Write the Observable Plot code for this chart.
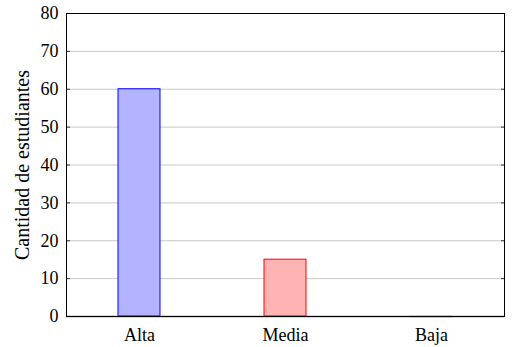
<!DOCTYPE html>
<html>
<head>
<meta charset="utf-8">
<script src="https://cdn.jsdelivr.net/npm/d3@7"></script>
<script src="https://cdn.jsdelivr.net/npm/@observablehq/plot@0.6"></script>
<style>
body { margin: 0; background: white; }
</style>
</head>
<body>
<div id="chart"></div>
<script>
const categories = ["Alta", "Media", "Baja"];
const values = [60, 15, 0];
const fills = ["#b3b3ff", "#ffb3b3", "#ecd9c6"];
const strokes = ["#0000ff", "#ff0000", "#bf8040"];
const yTicks = [0, 10, 20, 30, 40, 50, 60, 70, 80];
const yLabel = "Cantidad de estudiantes";

const data = categories.map((c, i) => ({cat: c, value: values[i], fill: fills[i], stroke: strokes[i]}));

const chart = Plot.plot({
  width: 514,
  height: 347,
  marginLeft: 66,
  marginRight: 10,
  marginTop: 13,
  marginBottom: 31,
  style: {fontFamily: "Liberation Serif", fontSize: "18px", background: "white"},
  x: {domain: categories, paddingInner: 0.712, paddingOuter: 0.356},
  y: {domain: [0, 80]},
  marks: [
    Plot.gridY(yTicks, {stroke: "#c8c8c8", strokeOpacity: 1}),
    Plot.barY(data, {x: "cat", y: "value", fill: "fill", stroke: "stroke", strokeWidth: 1}),
    Plot.ruleY([0], {stroke: "#555", strokeWidth: 1.5}),
    Plot.tickY(data, {filter: d => d.value === 0, x: "cat", y: "value", stroke: "stroke", strokeWidth: 1.5}),
    Plot.axisY(yTicks, {tickSize: 0, tickPadding: 8, label: null, fill: "black"}),
    Plot.axisY(yTicks, {tickSize: 4, dx: 4, text: null, label: null, stroke: "#333"}),
    Plot.axisY(yTicks, {anchor: "right", tickSize: 4, dx: -4, text: null, label: null, stroke: "#333"}),
    Plot.axisX({tickSize: 0, tickPadding: 12, label: null, fill: "black"}),
    Plot.frame({stroke: "black", strokeWidth: 1}),
    Plot.text([yLabel], {frameAnchor: "left", textAnchor: "middle", rotate: -90, dx: -44, fill: "black", fontSize: 20})
  ]
});
document.getElementById("chart").appendChild(chart);
</script>
</body>
</html>
